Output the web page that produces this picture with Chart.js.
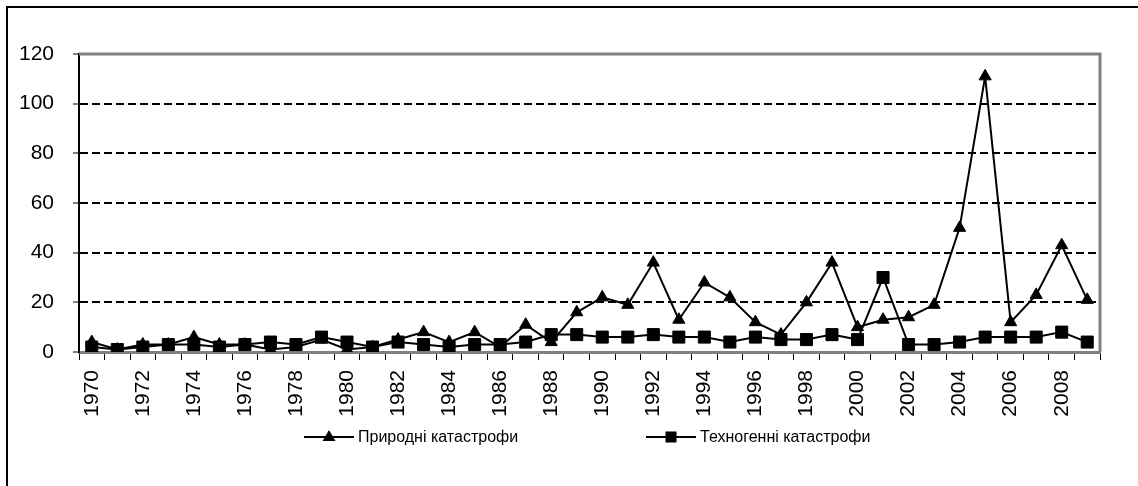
<!DOCTYPE html>
<html><head><meta charset="utf-8">
<script src="https://cdn.jsdelivr.net/npm/chart.js@4/dist/chart.umd.min.js"></script>
<style>
html,body{margin:0;padding:0;background:#fff;overflow:hidden;}
#wrap{position:relative;width:1138px;height:486px;overflow:hidden;}
#frame{position:absolute;left:6px;top:6px;width:1300px;height:700px;border-left:2px solid #000;border-top:2px solid #000;box-sizing:border-box;pointer-events:none;}
canvas{position:absolute;left:0;top:0;}
</style></head><body>
<div id="wrap"><canvas id="c" width="1138" height="486"></canvas><div id="frame"></div></div>
<script>
const years = ['1970','1971','1972','1973','1974','1975','1976','1977','1978','1979',
  '1980','1981','1982','1983','1984','1985','1986','1987','1988','1989',
  '1990','1991','1992','1993','1994','1995','1996','1997','1998','1999',
  '2000','2001','2002','2003','2004','2005','2006','2007','2008','2009'];
const natural = [4,1,3,3,6,3,3,1,2,5,
  1,2,5,8,4,8,2,11,4,16,
  22,19,36,13,28,22,12,7,20,36,
  10,13,14,19,50,111,12,23,43,21];
const technogenic = [2,1,2,3,3,2,3,4,3,6,
  4,2,4,3,2,3,3,4,7,7,
  6,6,7,6,6,4,6,5,5,7,
  5,30,3,3,4,6,6,6,8,4];
const yTicks = [0,20,40,60,80,100,120];
const seriesNames = ['Природні катастрофи','Техногенні катастрофи'];

const FONT = "'Liberation Sans Narrow','Arial Narrow','Liberation Sans',Arial,sans-serif";

const framePlugin = {
  id:'frame',
  beforeDatasetsDraw(chart){
    const {ctx, chartArea:a} = chart;
    ctx.save();
    ctx.strokeStyle='#808080'; ctx.lineWidth=3;
    ctx.beginPath();
    ctx.moveTo(a.left, a.top); ctx.lineTo(a.right, a.top); ctx.lineTo(a.right, a.bottom);
    ctx.stroke();
    ctx.restore();
  }
};

const legendPlugin = {
  id:'customLegend',
  afterDraw(chart){
    const ctx = chart.ctx;
    const starts = [304, 646];
    const y = 437;
    ctx.save();
    chart.data.datasets.forEach((ds,i)=>{
      const x0 = starts[i];
      ctx.strokeStyle='#000'; ctx.lineWidth=2;
      ctx.beginPath(); ctx.moveTo(x0,y); ctx.lineTo(x0+50,y); ctx.stroke();
      ctx.fillStyle='#000';
      const cx = x0+25;
      if (ds.pointStyle==='triangle'){
        ctx.beginPath(); ctx.moveTo(cx, y-7); ctx.lineTo(cx+6.5, y+4); ctx.lineTo(cx-6.5, y+4); ctx.closePath(); ctx.fill();
      } else {
        ctx.fillRect(cx-5.5, y-5.5, 11, 11);
      }
      ctx.font = "16px " + FONT;
      ctx.textBaseline='middle'; ctx.textAlign='left';
      ctx.fillText(ds.label, x0+54, y+1);
    });
    ctx.restore();
  }
};

new Chart(document.getElementById('c').getContext('2d'), {
  type:'line',
  data:{
    labels: years,
    datasets:[
      {label:seriesNames[0], data:natural, borderColor:'#000', backgroundColor:'#000', borderWidth:2,
       pointStyle:'triangle', pointRadius:7, pointBackgroundColor:'#000', pointBorderColor:'#000', pointBorderWidth:1, tension:0},
      {label:seriesNames[1], data:technogenic, borderColor:'#000', backgroundColor:'#000', borderWidth:2,
       pointStyle:'rect', pointRadius:8.5, pointBackgroundColor:'#000', pointBorderColor:'#000', pointBorderWidth:1, tension:0}
    ]
  },
  options:{
    responsive:false, animation:false, devicePixelRatio:1,
    layout:{padding:{left:0,right:38,top:54,bottom:0}},
    plugins:{legend:{display:false}, tooltip:{enabled:false}},
    scales:{
      x:{
        offset:true,
        grid:{offset:true, drawOnChartArea:false, drawTicks:true, tickLength:8, color:'#000', lineWidth:1},
        border:{display:true, color:'#808080', width:3},
        ticks:{autoSkip:false, maxRotation:90, minRotation:90, padding:10, color:'#000',
          font:{family:FONT, size:21},
          callback:(v,i)=> i%2===0 ? years[i] : ''},
        afterFit:s=>{ s.height = 134; }
      },
      y:{
        min:0, max:120,
        afterBuildTicks:s=>{ s.ticks = yTicks.map(v=>({value:v})); },
        grid:{color:c=> (c.tick && (c.tick.value===0 || c.tick.value===120)) ? 'rgba(0,0,0,0)' : '#000',
          lineWidth:2, drawTicks:true, tickLength:6, tickColor:'#000', tickWidth:1, tickBorderDash:[]},
        border:{display:true, color:'#000', width:2, dash:[8,4]},
        ticks:{padding:19, color:'#000', font:{family:FONT, size:21}},
        afterFit:s=>{ s.width = 79; }
      }
    }
  },
  plugins:[framePlugin, legendPlugin]
});
</script>
</body></html>
